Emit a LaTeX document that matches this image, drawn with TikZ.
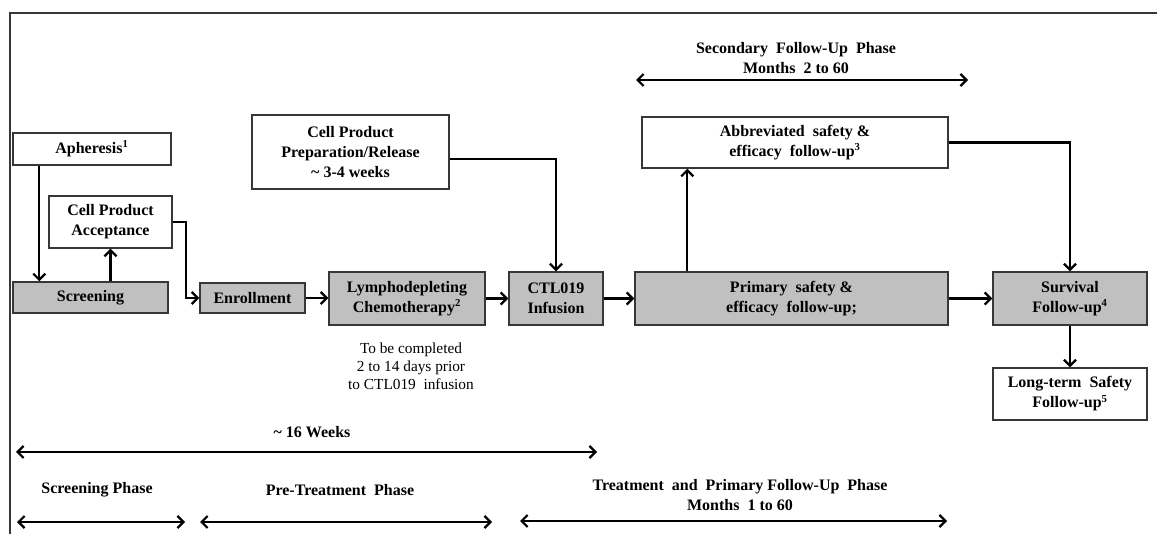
\documentclass[tikz,border=0pt]{standalone}
\usepackage{fontspec}
\setmainfont{Liberation Serif}
\usetikzlibrary{arrows.meta,calc}
\definecolor{boxgray}{RGB}{192,192,192}
\definecolor{edge}{RGB}{55,55,55}
\begin{document}
\begin{tikzpicture}[x=0.75pt,y=-0.75pt,
  txt/.style={font=\fontsize{12}{15}\selectfont\bfseries, align=center, inner sep=0pt},
  stagebox/.style={txt, draw=edge, line width=1.1pt, fill=white},
  greybox/.style={stagebox, fill=boxgray},
  tip/.style={},
  arr/.style={line width=1.7pt, -{Straight Barb[length=4.5pt,width=9pt]}},
  span/.style={line width=1.7pt, {Straight Barb[length=4.5pt,width=9pt]}-{Straight Barb[length=4.5pt,width=9pt]}},
]
\useasboundingbox (0,0) rectangle (1157,534);

% frame
\draw[edge, line width=1.5pt] (10,534) -- (10,13) -- (1157,13);

% stages
\node[stagebox, minimum width=118.5pt, minimum height=24pt] (aph) at (92,149) {Apheresis\textsuperscript{1}};
\node[stagebox, minimum width=92.25pt, minimum height=39pt] (acc) at (110.5,222) {Cell Product\\Acceptance};
\node[greybox, minimum width=116.25pt, minimum height=23.25pt] (scr) at (90.5,297.5) {Screening};
\node[greybox, minimum width=78.75pt, minimum height=22.5pt] (enr) at (252.5,298) {Enrollment};
\node[greybox, minimum width=117pt, minimum height=39.75pt] (lym) at (407,298.5) {Lymphodepleting\\Chemotherapy\textsuperscript{2}};
\node[greybox, minimum width=70.5pt, minimum height=39.75pt] (ctl) at (556,298.5) {CTL019\\Infusion};
\node[stagebox, minimum width=147.75pt, minimum height=55.5pt] (prep) at (350.5,152) {Cell Product\\Preparation/Release\\\textasciitilde{} 3-4 weeks};
\node[greybox, minimum width=234.75pt, minimum height=39.75pt] (prim) at (791.5,298.5) {Primary\ \ safety \&\\efficacy\ \ follow-up;};
\node[stagebox, minimum width=229.5pt, minimum height=38.25pt] (abb) at (795,142.5) {Abbreviated\ \ safety \&\\efficacy\ \ follow-up\textsuperscript{3}};
\node[greybox, minimum width=115.5pt, minimum height=39.75pt] (surv) at (1070,298.5) {Survival\\Follow-up\textsuperscript{4}};
\node[stagebox, minimum width=115.5pt, minimum height=39pt] (lt) at (1070,394) {Long-term\ \ Safety\\Follow-up\textsuperscript{5}};

% flow
\draw[arr] ([xshift=20.25pt]aph.south west) -- ([xshift=20.25pt]scr.north west);
\draw[arr] (scr.north -| acc.south) -- (acc.south);
\draw[arr] (acc.east) -- ++(13,0) |- (enr.west);
\draw[arr] (enr.east) -- (enr.east -| lym.west);
\draw[arr] (lym.east) -- (ctl.west);
\draw[arr] (ctl.east) -- (prim.west);
\draw[arr] (prim.east) -- (surv.west);
\draw[arr] ([yshift=-5.25pt]prep.east) -| (ctl.north);
\draw[arr] ([xshift=39.75pt]prim.north west) coordinate (up) -- (up |- abb.south);
\draw[arr] (abb.east) -| (surv.north);
\draw[arr] (surv.south) -- (lt.north);

% timing note
\node[font=\fontsize{11.5}{13.5}\selectfont, align=center, inner sep=0pt] (note) at (411,366)
  {To be completed\\2 to 14 days prior\\to CTL019\ \ infusion};

% phase spans
\node[txt] (sec) at (796,58) {Secondary\ \ Follow-Up\ \ Phase\\Months\ \ 2 to 60};
\coordinate (secL) at (636,80);
\coordinate (secR) at (968,80);
\draw[span] (secL) -- (secR);

\node[txt] (wk) at (312,432) {\textasciitilde{} 16 Weeks};
\coordinate (wkL) at (16,452);
\coordinate (wkR) at (597,452);
\draw[span] (wkL) -- (wkR);

\node[txt] (scrph) at (97,490) {Screening Phase};
\coordinate (scrL) at (17,522);
\coordinate (scrR) at (185,522);
\draw[span] (scrL) -- (scrR);

\node[txt] (preph) at (340,490) {Pre-Treatment\ \ Phase};
\coordinate (preL) at (200,522);
\coordinate (preR) at (492,522);
\draw[span] (preL) -- (preR);

\node[txt] (trph) at (740,495) {Treatment\ \ and\ \ Primary Follow-Up\ \ Phase\\Months\ \ 1 to 60};
\coordinate (trL) at (520,521);
\coordinate (trR) at (947,521);
\draw[span] (trL) -- (trR);
\end{tikzpicture}
\end{document}
